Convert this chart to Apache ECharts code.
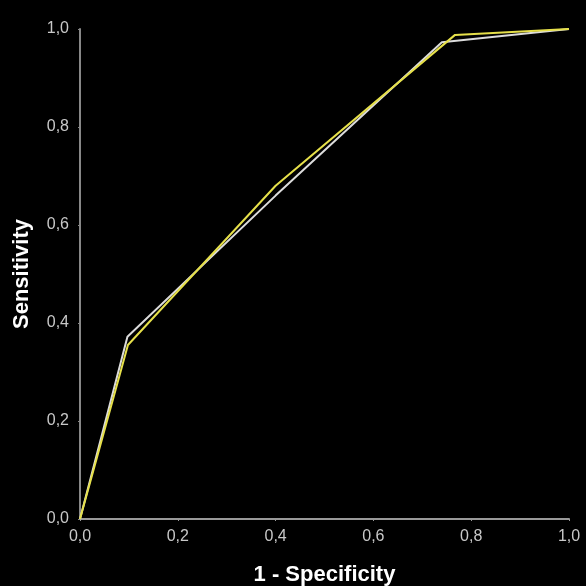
<!DOCTYPE html>
<html><head><meta charset="utf-8">
<script src="https://cdn.jsdelivr.net/npm/echarts@6/dist/echarts.min.js"></script>
<style>html,body{margin:0;padding:0;background:#000;}#c{width:586px;height:586px;}</style>
</head><body><div id="c"></div>
<script>
const whiteX = [0, 0.097, 0.40, 0.740, 1.0];
const whiteY = [0, 0.372, 0.660, 0.973, 1.0];
const yellowX = [0, 0.098, 0.40, 0.767, 1.0];
const yellowY = [0, 0.355, 0.680, 0.988, 1.0];
const xName = '1 - Specificity';
const yName = 'Sensitivity';

const fmt = v => v.toFixed(1).replace('.', ',');
const chart = echarts.init(document.getElementById('c'));
chart.setOption({
  backgroundColor: '#000',
  animation: false,
  grid: {left: 80, right: 17, top: 29, bottom: 67, containLabel: false, outerBoundsMode: 'none'},
  xAxis: {
    type: 'value', min: 0, max: 1, interval: 0.2,
    name: xName, nameLocation: 'middle', nameGap: 45,
    nameTextStyle: {color: '#fff', fontSize: 22, fontWeight: 'bold', fontFamily: 'Liberation Sans'},
    axisLine: {show: true, lineStyle: {color: '#999', width: 2}},
    axisTick: {show: true, length: 2, lineStyle: {color: '#999'}},
    axisLabel: {color: '#c8c8c8', fontSize: 16, fontFamily: 'Liberation Sans', formatter: fmt, margin: 10},
    splitLine: {show: false}
  },
  yAxis: {
    type: 'value', min: 0, max: 1, interval: 0.2,
    name: yName, nameLocation: 'middle', nameGap: 47, nameRotate: 90,
    nameTextStyle: {color: '#fff', fontSize: 22, fontWeight: 'bold', fontFamily: 'Liberation Sans'},
    axisLine: {show: true, lineStyle: {color: '#888', width: 2}},
    axisTick: {show: true, length: 2, lineStyle: {color: '#888'}},
    axisLabel: {color: '#c8c8c8', fontSize: 16, fontFamily: 'Liberation Sans', formatter: fmt, margin: 11},
    splitLine: {show: false}
  },
  series: [
    {type: 'line', data: whiteX.map((x, i) => [x, whiteY[i]]), showSymbol: false,
     lineStyle: {color: '#dcdcdc', width: 2}},
    {type: 'line', data: yellowX.map((x, i) => [x, yellowY[i]]), showSymbol: false,
     lineStyle: {color: '#e6e04a', width: 2}}
  ]
});
</script></body></html>
